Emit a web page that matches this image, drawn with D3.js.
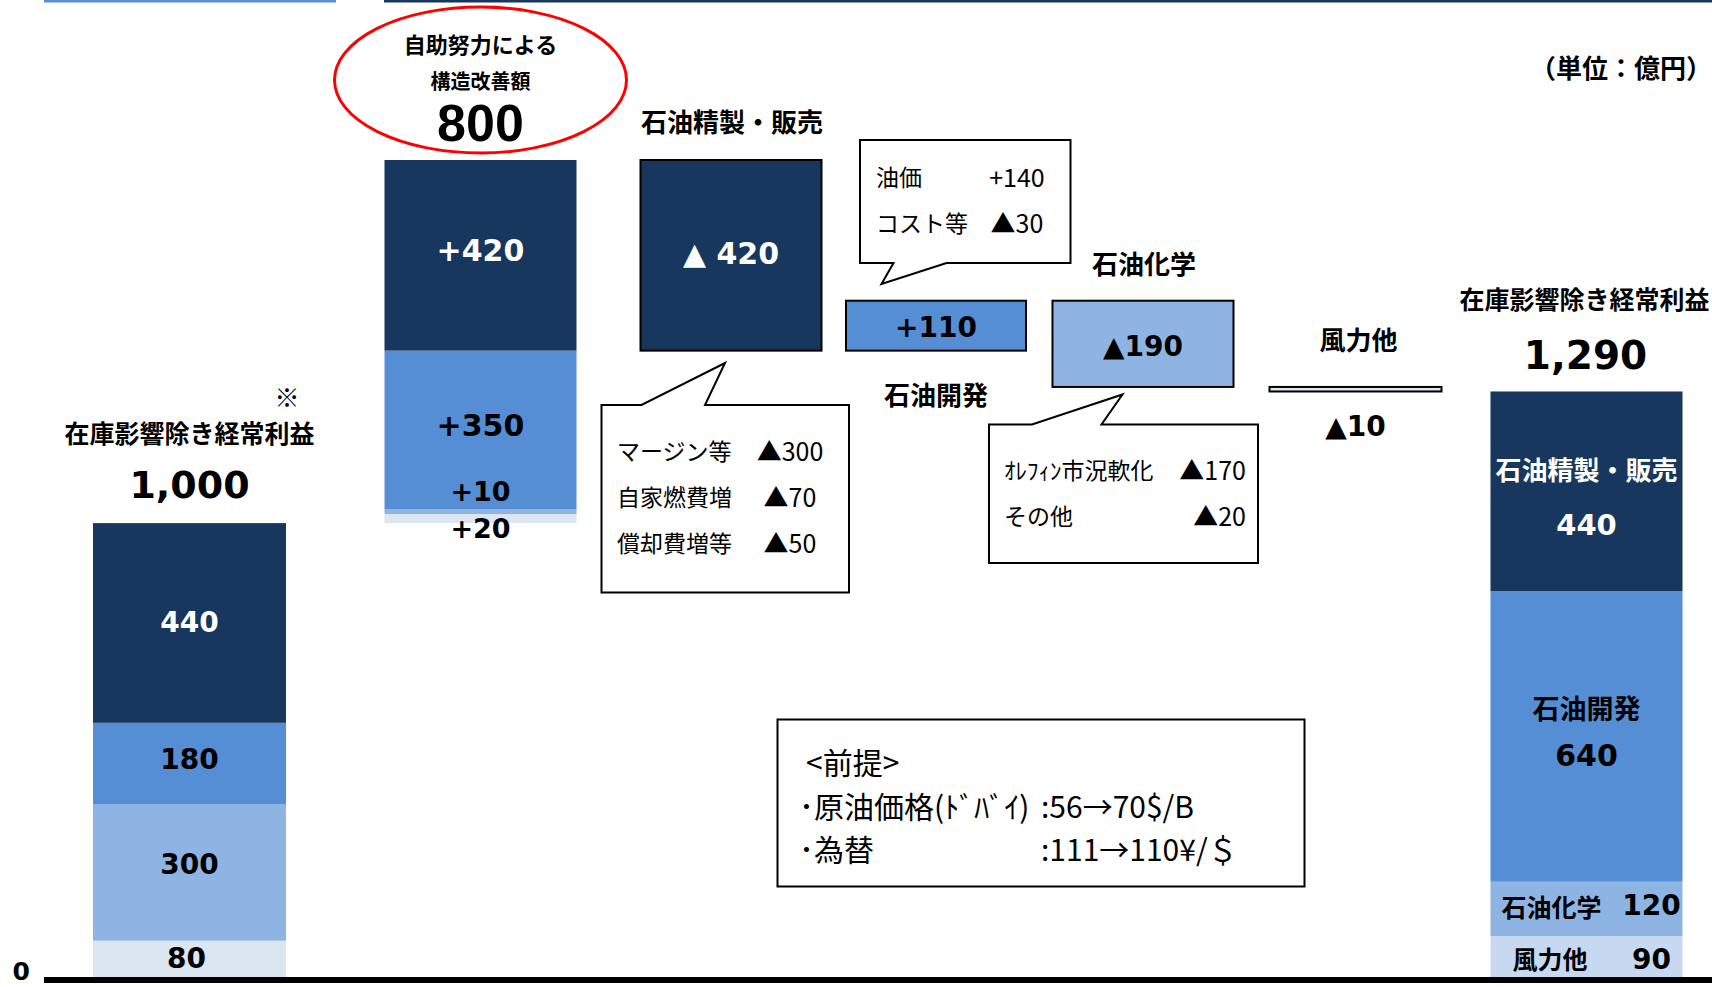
<!DOCTYPE html>
<html><head><meta charset="utf-8">
<script src="https://cdn.jsdelivr.net/npm/d3@7/dist/d3.min.js"></script>
<style>html,body{margin:0;padding:0;background:#fff;overflow:hidden}</style>
</head><body><svg id="c" width="1712" height="987"></svg>
<script>
// ---------- data ----------
const segments = ["石油精製・販売", "石油開発", "石油化学", "風力他"];
const startValues = [440, 180, 300, 80];          // 在庫影響除き経常利益 (before)
const startTotalLabel = "1,000";
const improvementValues = [420, 350, 10, 20];     // 自助努力による構造改善額
const improvementLabels = ["+420", "+350", "+10", "+20"];
const improvementTotalLabel = "800";
const deltaValues = [-420, 110, -190, -10];
const deltaLabels = ["▲ 420", "+110", "▲190", "▲10"];
const endValues = [440, 640, 120, 90];            // 在庫影響除き経常利益 (after)
const endTotalLabel = "1,290";
const callRefining = [["マージン等", "▲300"], ["自家燃費増", "▲70"], ["償却費増等", "▲50"]];
const callDevelopment = [["油価", "+140"], ["コスト等", "▲30"]];
const callChemicals = [["ｵﾚﾌｨﾝ市況軟化", "▲170"], ["その他", "▲20"]];
const assumptions = [["<前提>", ""], ["･原油価格(ﾄﾞﾊﾞｲ)", ":56→70$/B"], ["･為替", ":111→110¥/＄"]];
const yTicks = [0];

// ---------- layout / style ----------
const JP = "'Noto Sans CJK JP','Noto Sans',sans-serif";
const NUM = "'DejaVu Sans','Noto Sans CJK JP',sans-serif";
const NAVY = "#17375E", MED = "#558ED5", LIGHT = "#8EB4E3", PALE = "#DCE6F2", PALE2 = "#C6D9F1";
const segColorsStart = [NAVY, MED, LIGHT, PALE];
const segColorsEnd = [NAVY, MED, LIGHT, PALE2];
const deltaColors = [NAVY, MED, LIGHT, PALE];

const svg = d3.select("#c");
const y = d3.scaleLinear().domain([0, 1800]).range([977, 160]);
const x = d3.scaleLinear().domain([0, 1, 2, 3, 4, 5, 6])
  .range([189.5, 480.5, 731, 936, 1143, 1355.5, 1586.5]);
const widths = [193, 192, 181, 180, 181, 172, 192];

// header decoration lines
svg.append("rect").attr("x", 44).attr("y", 0).attr("width", 292).attr("height", 2.5).attr("fill", MED);
svg.append("rect").attr("x", 384).attr("y", 0).attr("width", 1328).attr("height", 2.5).attr("fill", NAVY);

function txt(g, t, px, py, o) {
  o = o || {};
  return g.append("text").attr("x", px).attr("y", py)
    .attr("text-anchor", o.anchor || "middle").attr("dominant-baseline", "central")
    .attr("font-family", o.family || JP).attr("font-weight", o.weight || "bold")
    .attr("font-size", o.size || 25).attr("fill", o.fill || "#000").text(t);
}

// stacked bar helper (stack from bottom: last segment first)
function stacked(idx, base, values, colors) {
  const w = widths[idx], x0 = x(idx) - w / 2;
  let level = base;
  const out = [];
  for (let i = values.length - 1; i >= 0; i--) {
    const lo = level, hi = level + values[i];
    svg.append("rect").attr("x", x0).attr("y", y(hi)).attr("width", w)
      .attr("height", y(lo) - y(hi)).attr("fill", colors[i]);
    out[i] = {lo, hi};
    level = hi;
  }
  return out;
}

// ----- bar 0 : start total -----
const s0 = stacked(0, 0, startValues, segColorsStart);
const startTotal = d3.sum(startValues);
const s0shift = [0, -4, -8, 0];
startValues.forEach((v, i) => {
  const cy = (y(s0[i].lo) + y(s0[i].hi)) / 2 + s0shift[i];
  txt(svg, String(v), x(0) - (i === 3 ? 3 : 0), cy, {family: NUM, size: 28, fill: i === 0 ? "#fff" : "#000"});
});
txt(svg, startTotalLabel, x(0), y(startTotal) - 38, {family: NUM, size: 38});
txt(svg, "在庫影響除き経常利益", x(0), y(startTotal) - 91, {size: 25});
txt(svg, "※", x(0) + widths[0] / 2 + 1, y(startTotal) - 127, {size: 25, weight: "normal"});

// ----- bar 1 : improvement -----
const s1 = stacked(1, startTotal, improvementValues, segColorsStart);
const impTotal = d3.sum(improvementValues);
txt(svg, improvementLabels[0], x(1), (y(s1[0].lo) + y(s1[0].hi)) / 2 - 5, {family: NUM, size: 30, fill: "#fff"});
txt(svg, improvementLabels[1], x(1), (y(s1[1].lo) + y(s1[1].hi)) / 2 - 5, {family: NUM, size: 30});
txt(svg, improvementLabels[2], x(1), y(s1[2].hi) - 18, {family: NUM, size: 27});
txt(svg, improvementLabels[3], x(1), y(s1[3].lo) + 5, {family: NUM, size: 27});
// red ellipse
const top1 = y(startTotal + impTotal);
svg.append("ellipse").attr("cx", x(1)).attr("cy", top1 - 80).attr("rx", 146).attr("ry", 73)
  .attr("fill", "none").attr("stroke", "#FF0000").attr("stroke-width", 3);
txt(svg, "自助努力による", x(1), top1 - 117, {size: 22});
txt(svg, "構造改善額", x(1), top1 - 80, {size: 20});
txt(svg, improvementTotalLabel, x(1), top1 - 37, {family: "'Liberation Sans',sans-serif", size: 52});

// ----- delta bars -----
let level = startTotal + impTotal;
const deltaBars = [];
deltaValues.forEach((v, i) => {
  const idx = i + 2, w = widths[idx];
  const lo = Math.min(level, level + v), hi = Math.max(level, level + v);
  svg.append("rect").attr("x", x(idx) - w / 2).attr("y", y(hi)).attr("width", w)
    .attr("height", y(lo) - y(hi)).attr("fill", deltaColors[i])
    .attr("stroke", "#000").attr("stroke-width", 2);
  deltaBars.push({lo, hi, idx});
  level += v;
});
// delta labels
txt(svg, deltaLabels[0], x(2), (y(deltaBars[0].lo) + y(deltaBars[0].hi)) / 2 - 2, {family: NUM, size: 30, fill: "#fff"});
txt(svg, deltaLabels[1], x(3), (y(deltaBars[1].lo) + y(deltaBars[1].hi)) / 2 + 2, {family: NUM, size: 28});
txt(svg, deltaLabels[2], x(4), (y(deltaBars[2].lo) + y(deltaBars[2].hi)) / 2 + 3, {family: NUM, size: 28});
txt(svg, deltaLabels[3], x(5), y(deltaBars[3].lo) + 35, {family: NUM, size: 28});
// category names
txt(svg, segments[0], x(2) + 1, y(deltaBars[0].hi) - 40, {size: 26});
txt(svg, segments[1], x(3), y(deltaBars[1].lo) + 43, {size: 26});
txt(svg, segments[2], x(4) + 1, y(deltaBars[2].hi) - 38, {size: 26});
txt(svg, segments[3], x(5) + 3, y(deltaBars[3].hi) - 48, {size: 26});

// ----- bar 6 : end total -----
const s6 = stacked(6, 0, endValues, segColorsEnd);
const endTotal = d3.sum(endValues);
const x6 = x(6);
let c0 = (y(s6[0].lo) + y(s6[0].hi)) / 2;
txt(svg, segments[0], x6, c0 - 23, {size: 26, fill: "#fff"});
txt(svg, String(endValues[0]), x6, c0 + 34, {family: NUM, size: 29, fill: "#fff"});
let c1 = (y(s6[1].lo) + y(s6[1].hi)) / 2;
txt(svg, segments[1], x6, c1 - 29, {size: 27});
txt(svg, String(endValues[1]), x6, c1 + 19, {family: NUM, size: 30});
let c2 = (y(s6[2].lo) + y(s6[2].hi)) / 2;
txt(svg, segments[2], x6 - 85, c2 - 3, {size: 25, anchor: "start"});
txt(svg, String(endValues[2]), x6 + 65, c2 - 3, {family: NUM, size: 28});
let c3 = (y(s6[3].lo) + y(s6[3].hi)) / 2;
txt(svg, segments[3], x6 - 74, c3 + 1, {size: 25, anchor: "start"});
txt(svg, String(endValues[3]), x6 + 65, c3 + 3, {family: NUM, size: 28});
txt(svg, endTotalLabel, x6 - 1, y(endTotal) - 36, {family: NUM, size: 39});
txt(svg, "在庫影響除き経常利益", x6 - 2, y(endTotal) - 93, {size: 25});

// unit
txt(svg, "（単位：億円）", 1712, 66, {size: 26, anchor: "end"});

// ----- axis -----
svg.append("line").attr("x1", 44).attr("x2", 1712).attr("y1", y(0) + 3).attr("y2", y(0) + 3)
  .attr("stroke", "#000").attr("stroke-width", 6);
const ax = svg.append("g").attr("transform", "translate(30,-6)")
  .call(d3.axisLeft(y).tickValues(yTicks).tickSize(0).tickPadding(0));
ax.select(".domain").remove();
ax.selectAll("text").attr("font-family", NUM).attr("font-weight", "bold").attr("font-size", 25)
  .attr("fill", "#000").attr("dy", "0.32em");

// ----- callouts -----
function callout(path, rows, opts) {
  svg.append("path").attr("d", path).attr("fill", "#fff").attr("stroke", "#000").attr("stroke-width", 2)
    .attr("stroke-linejoin", "miter");
  rows.forEach((r, i) => {
    const cy = opts.y0 + i * opts.dy;
    txt(svg, r[0], opts.xl, cy, {size: 23, weight: "normal", anchor: "start"});
    txt(svg, r[1], opts.xr, cy, {size: 25, weight: "normal", anchor: opts.ranchor || "middle"});
  });
}
callout("M601.5,405 L641.5,405 L725,363 L705,405 L849,405 L849,592.5 L601.5,592.5 Z",
  callRefining, {xl: 617, xr: 790, y0: 450, dy: 46});
callout("M860,140 L1070.5,140 L1070.5,263 L946.5,263 L881.5,284 L893.5,263 L860,263 Z",
  callDevelopment, {xl: 876, xr: 1017, y0: 176, dy: 46});
callout("M989,424.5 L1032,424.5 L1122.5,394.5 L1101.5,424.5 L1258,424.5 L1258,563 L989,563 Z",
  callChemicals, {xl: 1004, xr: 1246, y0: 469, dy: 46, ranchor: "end"});

// ----- assumptions box -----
svg.append("rect").attr("x", 777.5).attr("y", 719.5).attr("width", 527).attr("height", 167)
  .attr("fill", "#fff").attr("stroke", "#000").attr("stroke-width", 2);
assumptions.forEach((r, i) => {
  const cy = 761 + i * 43.5;
  txt(svg, r[0], i === 0 ? 806 : 799, cy, {size: 30, weight: "normal", anchor: "start"});
  if (r[1]) txt(svg, r[1], 1041, cy, {size: 30, weight: "normal", anchor: "start"});
});
</script></body></html>
